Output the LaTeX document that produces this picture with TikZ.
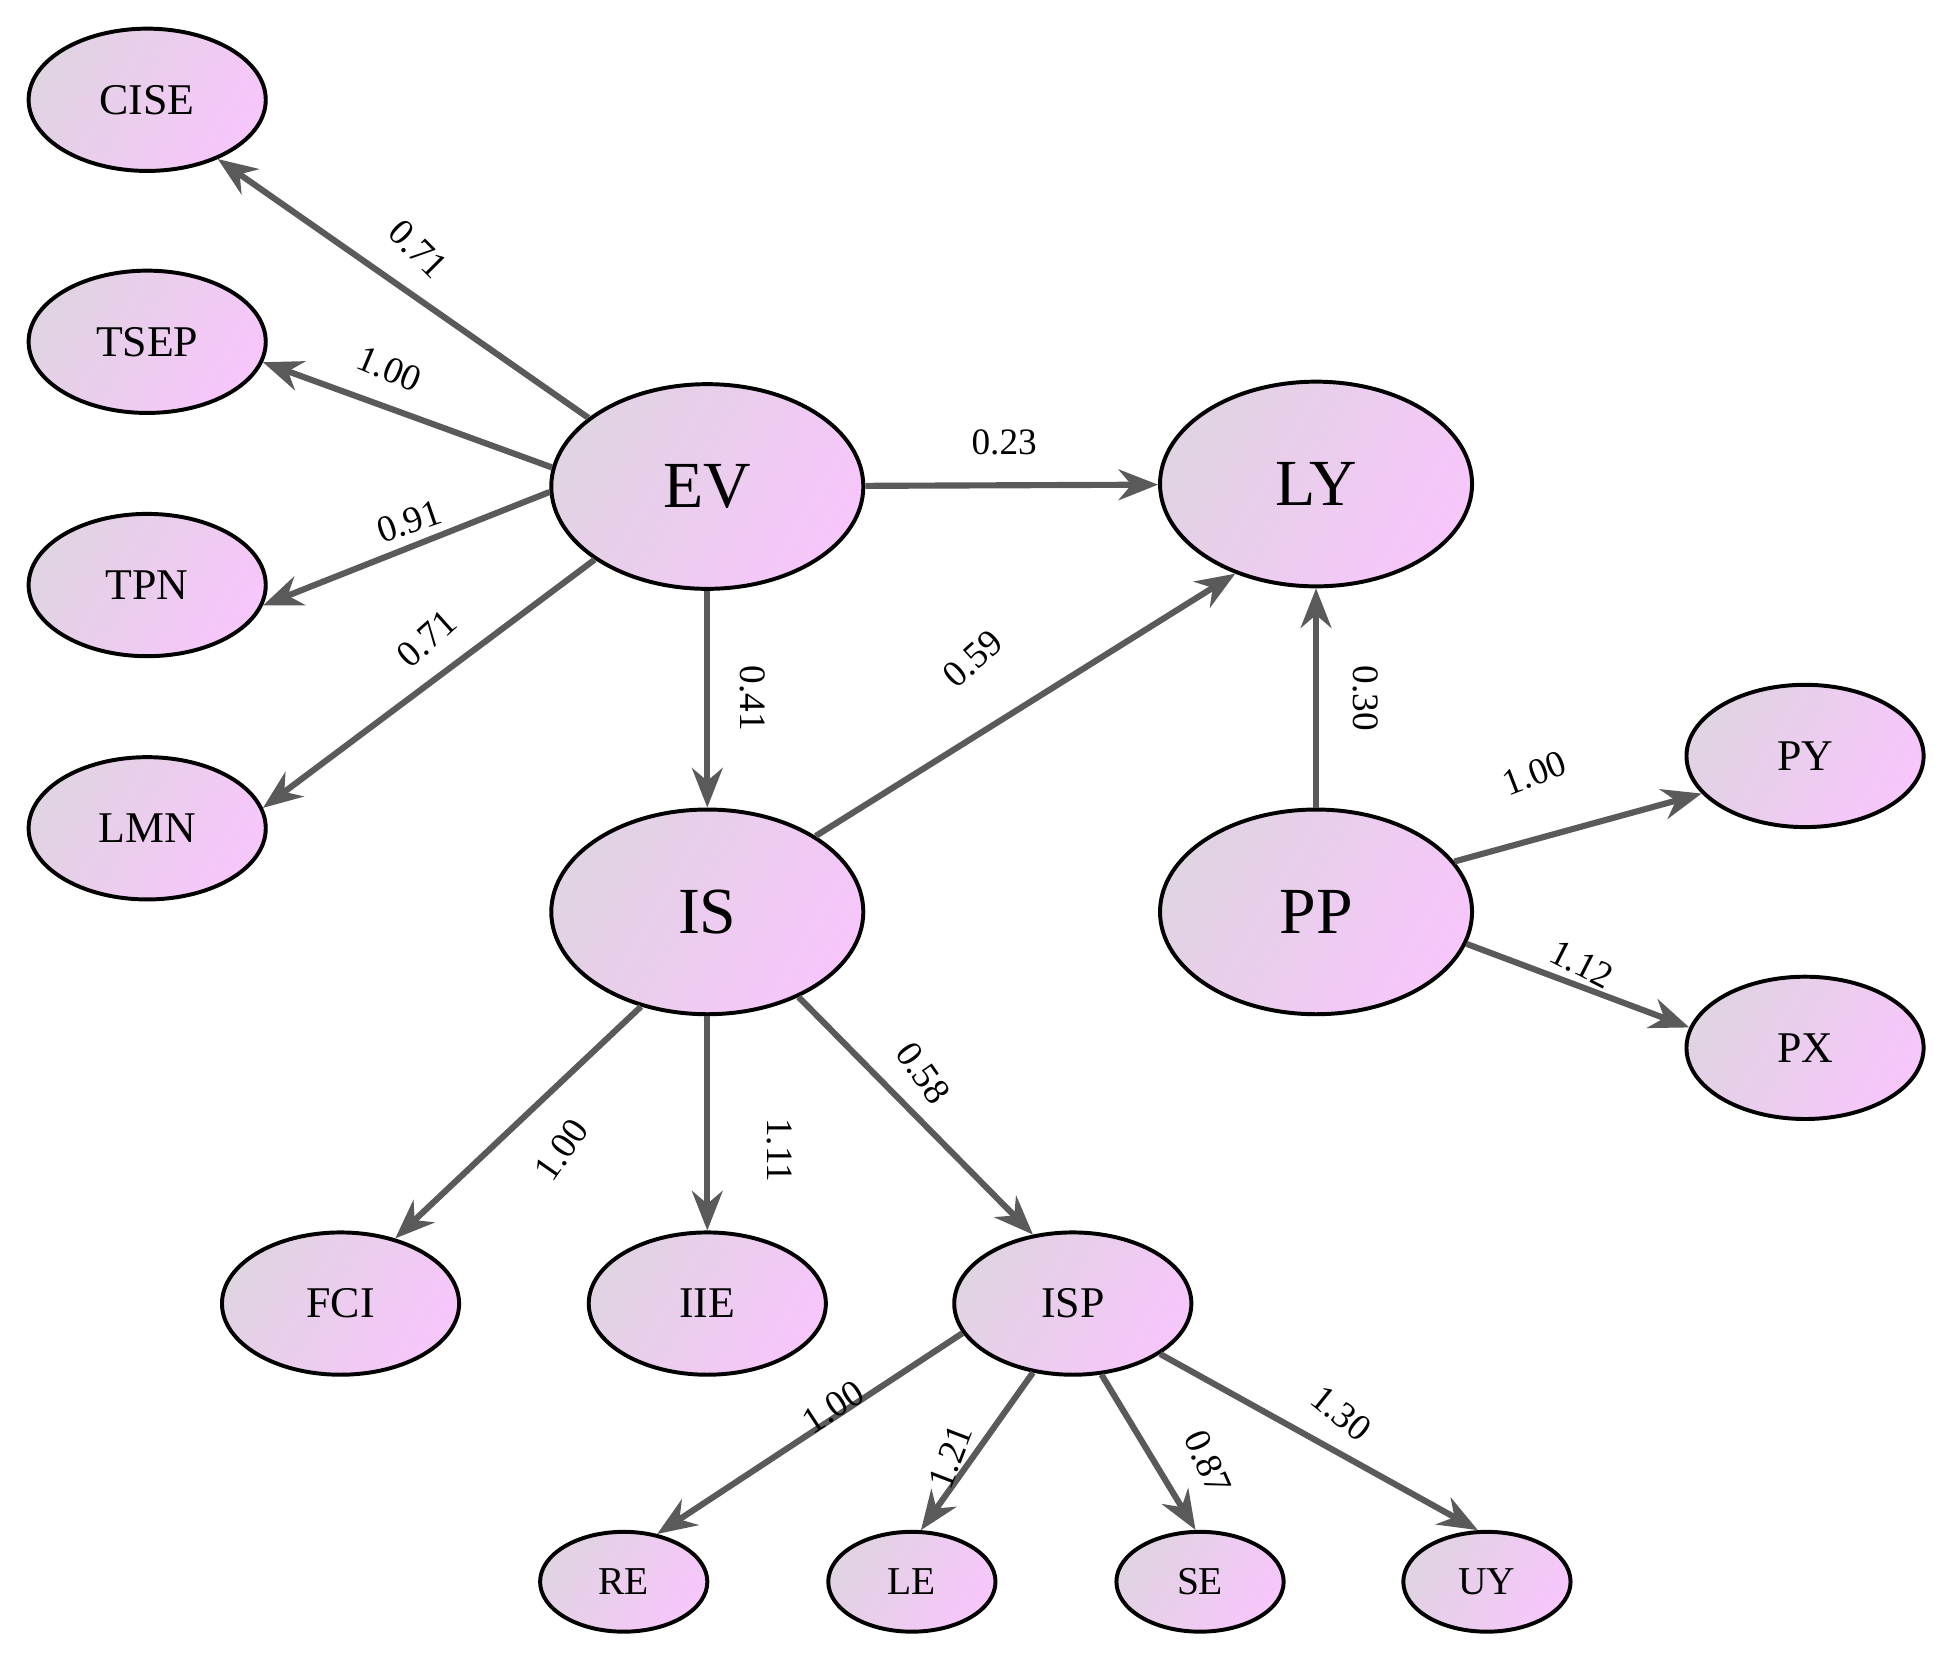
\documentclass[tikz,border=0pt]{standalone}
\usepackage{fontspec}
\setmainfont{Liberation Serif}
\usetikzlibrary{arrows.meta,shapes.geometric}
\definecolor{ca}{HTML}{E0D3E2}
\definecolor{cb}{HTML}{F7C6FB}
\definecolor{ln}{HTML}{5A5A5A}
\begin{document}
\begin{tikzpicture}[x=0.01cm,y=-0.01cm,
  el/.style={ellipse,draw=black,line width=0.9pt,left color=ca,right color=cb,shading angle=60,inner sep=0pt},
  big/.style={el,minimum width=2.5cm,minimum height=1.64cm,font=\fontsize{15}{15}\selectfont},
  mid/.style={el,minimum width=1.9cm,minimum height=1.14cm,font=\fontsize{10}{10}\selectfont},
  sm/.style={el,minimum width=1.34cm,minimum height=0.8cm,font=\fontsize{9}{9}\selectfont},
  ar/.style={draw=ln,line width=1.4pt,-{Stealth[length=9pt,width=7pt]}},
  lb/.style={font=\fontsize{8.5}{8.5}\selectfont}]
\useasboundingbox (0,0) rectangle (1560,1327);
\node[mid] (CISE) at (118,80) {CISE};
\node[mid] (TSEP) at (118,274) {TSEP};
\node[mid] (TPN) at (118,469) {TPN};
\node[mid] (LMN) at (118,664) {LMN};
\node[big] (EV) at (567,390) {EV};
\node[big] (LY) at (1055,388) {LY};
\node[big] (IS) at (567,731) {IS};
\node[big] (PP) at (1055,731) {PP};
\node[mid] (PY) at (1447,606) {PY};
\node[mid] (PX) at (1447,840) {PX};
\node[mid] (FCI) at (273,1045) {FCI};
\node[mid] (IIE) at (567,1045) {IIE};
\node[mid] (ISP) at (860,1045) {ISP};
\node[sm] (RE) at (500,1268) {RE};
\node[sm] (LE) at (731,1268) {LE};
\node[sm] (SE) at (962,1268) {SE};
\node[sm] (UY) at (1192,1268) {UY};
\draw[ar] (EV.150) -- (CISE.-40);
\draw[ar] (EV.173) -- (TSEP.-10);
\draw[ar] (EV.182) -- (TPN.-10);
\draw[ar] (EV.213) -- (LMN.10);
\draw[ar] (EV) -- (LY);
\draw[ar] (EV) -- (IS);
\draw[ar] (IS.35) -- (LY.228);
\draw[ar] (PP) -- (LY);
\draw[ar] (PP.20) -- (PY.200);
\draw[ar] (PP.-12) -- (PX.170);
\draw[ar] (IS.235) -- (FCI.50);
\draw[ar] (IS) -- (IIE);
\draw[ar] (IS.-43) -- (ISP.120);
\draw[ar] (ISP.195) -- (RE.55);
\draw[ar] (ISP.240) -- (LE.80);
\draw[ar] (ISP.292) -- (SE.95);
\draw[ar] (ISP.330) -- (UY.100);
\node[lb,rotate=-45] (l1) at (335,200) {0.71};
\node[lb,rotate=-23] (l2) at (312,296) {1.00};
\node[lb,rotate=19] (l3) at (328,418) {0.91};
\node[lb,rotate=42] (l4) at (342,512) {0.71};
\node[lb] (l5) at (805,355) {0.23};
\node[lb,rotate=-90] (l6) at (603,560) {0.41};
\node[lb,rotate=42] (l7) at (780,528) {0.59};
\node[lb,rotate=-90] (l8) at (1095,560) {0.30};
\node[lb,rotate=21] (l9) at (1230,620) {1.00};
\node[lb,rotate=-27] (l10) at (1268,773) {1.12};
\node[lb,rotate=55] (l11) at (450,922) {1.00};
\node[lb,rotate=-90] (l12) at (625,922) {1.11};
\node[lb,rotate=-55] (l13) at (740,860) {0.58};
\node[lb,rotate=33] (l14) at (668,1128) {1.00};
\node[lb,rotate=69] (l15) at (762,1168) {1.21};
\node[lb,rotate=-66] (l16) at (968,1172) {0.87};
\node[lb,rotate=-39] (l17) at (1075,1133) {1.30};
\end{tikzpicture}
\end{document}
